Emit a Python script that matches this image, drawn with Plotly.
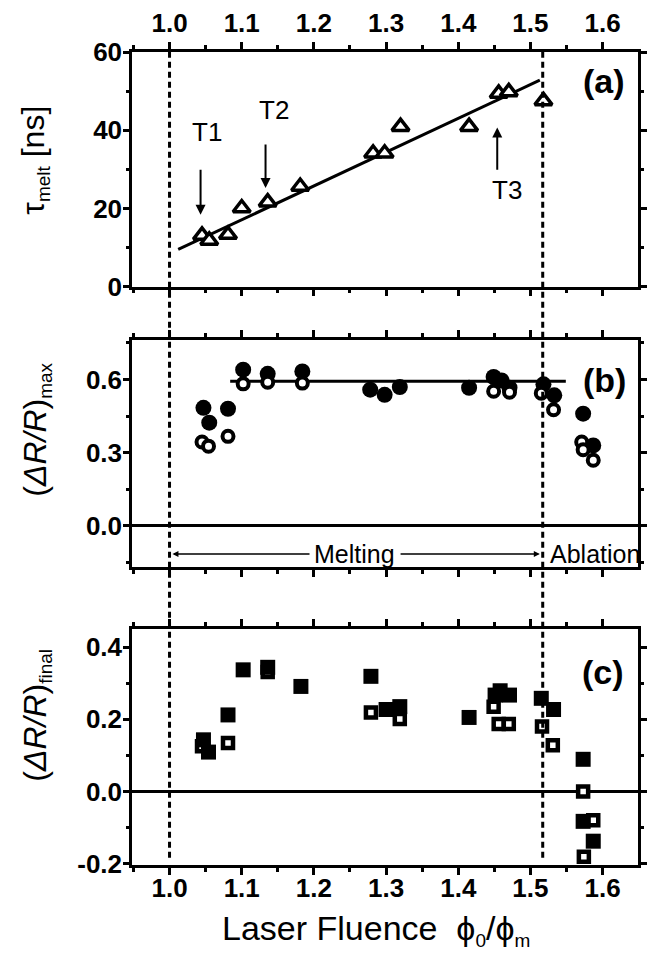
import plotly.graph_objects as go

# ---------------- data ----------------
# (a) melt duration
tau_x = [1.045, 1.055, 1.081, 1.100, 1.136, 1.181, 1.282, 1.298, 1.320, 1.415, 1.456, 1.470, 1.518]
tau_y = [13.1, 11.8, 13.3, 20.1, 21.6, 25.6, 34.1, 34.1, 40.9, 40.9, 49.4, 49.8, 47.5]
fit_a_x = [1.012, 1.513]
fit_a_y = [9.5, 52.8]

# (b) max reflectivity change
max_fill_x = [1.047, 1.055, 1.081, 1.102, 1.136, 1.184, 1.278, 1.298, 1.319, 1.415, 1.449, 1.460, 1.471, 1.518, 1.533, 1.573, 1.587]
max_fill_y = [0.484, 0.423, 0.480, 0.640, 0.623, 0.633, 0.558, 0.537, 0.569, 0.566, 0.610, 0.596, 0.566, 0.580, 0.535, 0.460, 0.330]
max_open_x = [1.045, 1.054, 1.081, 1.102, 1.136, 1.184, 1.449, 1.471, 1.515, 1.532, 1.571, 1.573, 1.587]
max_open_y = [0.344, 0.327, 0.367, 0.582, 0.589, 0.585, 0.552, 0.548, 0.544, 0.476, 0.344, 0.312, 0.269]
fit_b_x = [1.084, 1.549]
fit_b_y = [0.593, 0.593]

# (c) final reflectivity change
fin_fill_x = [1.047, 1.054, 1.081, 1.102, 1.136, 1.182, 1.279, 1.300, 1.319, 1.415, 1.451, 1.458, 1.471, 1.515, 1.532, 1.573, 1.573, 1.587]
fin_fill_y = [0.143, 0.109, 0.212, 0.337, 0.344, 0.291, 0.319, 0.227, 0.235, 0.205, 0.267, 0.279, 0.267, 0.258, 0.227, 0.089, -0.083, -0.138]
fin_open_x = [1.045, 1.081, 1.136, 1.279, 1.319, 1.449, 1.456, 1.470, 1.516, 1.531, 1.573, 1.587, 1.574]
fin_open_y = [0.125, 0.134, 0.331, 0.219, 0.201, 0.235, 0.187, 0.187, 0.180, 0.128, 0.000, -0.080, -0.181]

x_ticks = [1.0, 1.1, 1.2, 1.3, 1.4, 1.5, 1.6]
x_ticktext = ["1.0", "1.1", "1.2", "1.3", "1.4", "1.5", "1.6"]
ya_ticks = [0, 20, 40, 60]
ya_text = ["0", "20", "40", "60"]
yb_ticks = [0.0, 0.3, 0.6]
yb_text = ["0.0", "0.3", "0.6"]
yc_ticks = [-0.2, 0.0, 0.2, 0.4]
yc_text = ["-0.2", "0.0", "0.2", "0.4"]

threshold_melt = 1.0
threshold_ablation = 1.517

FONT = "Liberation Sans"
BLACK = "#000000"

fig = go.Figure()

# panel (a)
fig.add_trace(go.Scatter(x=fit_a_x, y=fit_a_y, mode="lines", line=dict(color=BLACK, width=3),
                         xaxis="x", yaxis="y", showlegend=False))
fig.add_trace(go.Scatter(x=tau_x, y=tau_y, mode="markers", xaxis="x", yaxis="y", showlegend=False,
                         marker=dict(symbol="triangle-up", size=15, color="white",
                                     line=dict(color=BLACK, width=3.5))))
# panel (b)
fig.add_trace(go.Scatter(x=fit_b_x, y=fit_b_y, mode="lines", line=dict(color=BLACK, width=3),
                         xaxis="x2", yaxis="y2", showlegend=False))
fig.add_trace(go.Scatter(x=max_fill_x, y=max_fill_y, mode="markers", xaxis="x2", yaxis="y2", showlegend=False,
                         marker=dict(symbol="circle", size=16, color=BLACK, line=dict(width=0))))
fig.add_trace(go.Scatter(x=max_open_x, y=max_open_y, mode="markers", xaxis="x2", yaxis="y2", showlegend=False,
                         marker=dict(symbol="circle", size=11, color="white", line=dict(color=BLACK, width=4))))
# panel (c)
fig.add_trace(go.Scatter(x=fin_open_x, y=fin_open_y, mode="markers", xaxis="x3", yaxis="y3", showlegend=False,
                         marker=dict(symbol="square", size=10, color="white", line=dict(color=BLACK, width=4.5))))
fig.add_trace(go.Scatter(x=fin_fill_x, y=fin_fill_y, mode="markers", xaxis="x3", yaxis="y3", showlegend=False,
                         marker=dict(symbol="square", size=15, color=BLACK, line=dict(width=0))))

tickfont = dict(family=FONT, size=26, color=BLACK, weight="bold")
common_x = dict(range=[0.948, 1.649], tickvals=x_ticks, ticktext=x_ticktext, ticks="outside", ticklen=7,
                tickwidth=2.5, tickcolor=BLACK, showline=True, linewidth=2.5, linecolor=BLACK, mirror="ticks",
                showgrid=False, zeroline=False, tickfont=tickfont,
                minor=dict(dtick=0.05, tick0=1.0, ticks="outside", ticklen=4, tickwidth=2.5, tickcolor=BLACK,
                           showgrid=False))
common_y = dict(ticks="outside", ticklen=6, tickwidth=2.5, tickcolor=BLACK, showline=True, linewidth=2.5,
                linecolor=BLACK, mirror="ticks", showgrid=False, tickfont=tickfont, ticklabelstandoff=-4,
                zerolinecolor=BLACK, zerolinewidth=2.5)

fig.update_layout(
    width=652, height=957,
    margin=dict(l=132, r=5, t=52, b=92),
    paper_bgcolor="white", plot_bgcolor="white",
    xaxis=dict(common_x, anchor="y", side="top", domain=[0, 1]),
    yaxis=dict(common_y, anchor="x", domain=[0.7114, 1.0], range=[0, 60], tickvals=ya_ticks, ticktext=ya_text,
               zeroline=False, minor=dict(dtick=10, tick0=0, ticks="outside", ticklen=3.5, tickwidth=2.5,
                                          tickcolor=BLACK, showgrid=False)),
    xaxis2=dict(common_x, anchor="y2", showticklabels=False, domain=[0, 1]),
    yaxis2=dict(common_y, anchor="x2", domain=[0.3665, 0.6462], range=[-0.168, 0.763], tickvals=yb_ticks,
                ticktext=yb_text, zeroline=True,
                minor=dict(dtick=0.15, tick0=0, ticks="outside", ticklen=3.5, tickwidth=2.5, tickcolor=BLACK,
                           showgrid=False)),
    xaxis3=dict(common_x, anchor="y3", domain=[0, 1], ticklabelstandoff=-9),
    yaxis3=dict(common_y, anchor="x3", domain=[0, 0.2902], range=[-0.204, 0.45], tickvals=yc_ticks,
                ticktext=yc_text, zeroline=True,
                minor=dict(dtick=0.1, tick0=0, ticks="outside", ticklen=3.5, tickwidth=2.5, tickcolor=BLACK,
                           showgrid=False)),
)

# dashed threshold lines spanning all panels
for xv in [threshold_melt, threshold_ablation]:
    fig.add_shape(type="line", xref="x", yref="paper", x0=xv, x1=xv, y0=0.009, y1=1.0,
                  line=dict(color=BLACK, width=3, dash="6px,4px"), layer="above")

ann = []
txt = dict(family=FONT, size=26, color=BLACK)
# T labels and arrows in (a)
ann.append(dict(x=1.052, y=39.6, xref="x", yref="y", text="T1", showarrow=False, font=txt))
ann.append(dict(x=1.145, y=45.2, xref="x", yref="y", text="T2", showarrow=False, font=txt))
ann.append(dict(x=1.4675, y=24.8, xref="x", yref="y", text="T3", showarrow=False, font=txt))
for (xa, y_tail, y_head) in [(1.043, 30.3, 18.4), (1.133, 36.7, 25.2), (1.454, 29.5, 40.7)]:
    ann.append(dict(x=xa, y=y_head, ax=xa, ay=y_tail, xref="x", yref="y", axref="x", ayref="y", text="",
                    showarrow=True, arrowhead=2, arrowsize=1, arrowwidth=2, arrowcolor=BLACK))
# panel labels
lab = dict(family=FONT, size=34, color=BLACK)
ann.append(dict(x=1.602, y=52.6, xref="x", yref="y", text="<b>(a)</b>", showarrow=False, font=lab))
ann.append(dict(x=1.602, y=0.596, xref="x2", yref="y2", text="<b>(b)</b>", showarrow=False, font=lab))
ann.append(dict(x=1.600, y=0.33, xref="x3", yref="y3", text="<b>(c)</b>", showarrow=False, font=lab))
# melting / ablation
ann.append(dict(x=1.2565, y=-0.115, xref="x2", yref="y2", text="Melting", showarrow=False, font=dict(txt, size=25)))
ann.append(dict(x=1.589, y=-0.115, xref="x2", yref="y2", text="Ablation", showarrow=False, font=dict(txt, size=25)))
ann.append(dict(x=1.004, y=-0.115, ax=1.196, ay=-0.115, xref="x2", yref="y2", axref="x2", ayref="y2", text="",
                showarrow=True, arrowhead=2, arrowsize=0.8, arrowwidth=1.5, arrowcolor=BLACK))
ann.append(dict(x=1.513, y=-0.115, ax=1.318, ay=-0.115, xref="x2", yref="y2", axref="x2", ayref="y2", text="",
                showarrow=True, arrowhead=2, arrowsize=0.8, arrowwidth=1.5, arrowcolor=BLACK))

# axis titles
ttl = dict(family=FONT, size=32, color=BLACK)
def px_to_paper_y(py):
    return (865 - py) / 813.0
def px_to_paper_x(px):
    return (px - 132) / 515.0

SUB = '<sub><span style="font-size:19px">{}</span></sub>'
ann.append(dict(x=px_to_paper_x(33), y=px_to_paper_y(160), xref="paper", yref="paper",
                xanchor="center", yanchor="middle",
                text="τ" + SUB.format("melt") + " [ns]", textangle=-90, showarrow=False, font=ttl))
ann.append(dict(x=px_to_paper_x(35), y=px_to_paper_y(430), xref="paper", yref="paper",
                xanchor="center", yanchor="middle",
                text="(<i>ΔR/R</i>)" + SUB.format("max"), textangle=-90, showarrow=False, font=ttl))
ann.append(dict(x=px_to_paper_x(35), y=px_to_paper_y(715), xref="paper", yref="paper",
                xanchor="center", yanchor="middle",
                text="(<i>ΔR/R</i>)" + SUB.format("final"), textangle=-90, showarrow=False, font=ttl))
ann.append(dict(x=px_to_paper_x(380), y=px_to_paper_y(930), xref="paper", yref="paper",
                xanchor="center", yanchor="middle",
                text="Laser Fluence  ϕ" + SUB.format("0") + "/ϕ" + SUB.format("m"), showarrow=False,
                font=dict(ttl, size=34)))

fig.update_layout(annotations=ann)

fig.write_html("out.html")
